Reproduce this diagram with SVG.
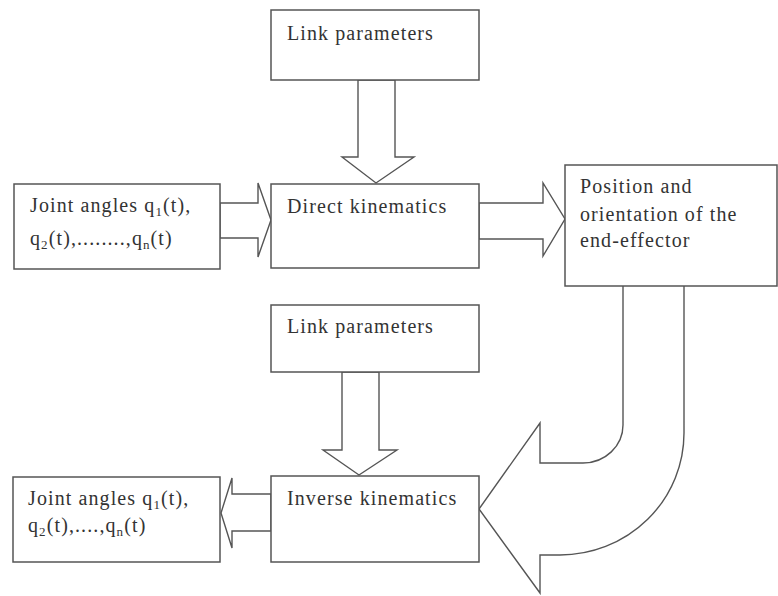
<svg xmlns="http://www.w3.org/2000/svg" width="778" height="596" viewBox="0 0 778 596">
<style>
.box{fill:#fff;stroke:#555;stroke-width:1.5}
.arr{fill:#fff;stroke:#555;stroke-width:1.4;stroke-linejoin:miter}
.t{font-family:"Liberation Serif","Times New Roman",serif;font-size:20px;fill:#333;letter-spacing:1.1px}
.sub{font-size:13px}
</style>
<rect width="778" height="596" fill="#fff"/>
<g id="connectors">
<polygon class="arr" points="358,80 358,157 342,157 376,183 414,157 395,157 395,80"/>
<polygon class="arr" points="220,203 258,203 258,183 271,220 258,257 258,238 220,238"/>
<polygon class="arr" points="479,203 543,203 543,183 565,219 543,256 543,239 479,239"/>
<polygon class="arr" points="342,372 342,450 323,450 359,475 397,450 379,450 379,372"/>
<polygon class="arr" points="271,494 232,494 232,478 221,513 232,548 232,531 271,531"/>
<path class="arr" d="M623 286 L623 425 A40 38 0 0 1 583 463 L540 463 L540 423 L479 509 L540 593 L540 555 L560 555 A124 122 0 0 0 684 433 L684 286"/>
</g>
<g id="link1">
<rect class="box" x="271" y="10" width="208" height="70"/>
<text class="t" x="287" y="40">Link parameters</text>
</g>
<g id="joint1">
<rect class="box" x="14" y="184" width="206" height="85"/>
<text class="t" x="30" y="212">Joint angles q<tspan class="sub" dy="4">1</tspan><tspan dy="-4">(t),</tspan></text>
<text class="t" x="30" y="245">q<tspan class="sub" dy="4">2</tspan><tspan dy="-4">(t),........,q</tspan><tspan class="sub" dy="4">n</tspan><tspan dy="-4">(t)</tspan></text>
</g>
<g id="direct">
<rect class="box" x="271" y="184" width="208" height="84"/>
<text class="t" x="287" y="213">Direct kinematics</text>
</g>
<g id="position">
<rect class="box" x="565" y="165" width="212" height="121"/>
<text class="t" x="580" y="193">Position and</text>
<text class="t" x="580" y="221">orientation of the</text>
<text class="t" x="580" y="247">end-effector</text>
</g>
<g id="link2">
<rect class="box" x="271" y="305" width="208" height="67"/>
<text class="t" x="287" y="333">Link parameters</text>
</g>
<g id="inverse">
<rect class="box" x="271" y="476" width="208" height="86"/>
<text class="t" x="287" y="505">Inverse kinematics</text>
</g>
<g id="joint2">
<rect class="box" x="13" y="477" width="207" height="85"/>
<text class="t" x="28" y="505">Joint angles q<tspan class="sub" dy="4">1</tspan><tspan dy="-4">(t),</tspan></text>
<text class="t" x="28" y="532">q<tspan class="sub" dy="4">2</tspan><tspan dy="-4">(t),....,q</tspan><tspan class="sub" dy="4">n</tspan><tspan dy="-4">(t)</tspan></text>
</g>
</svg>
